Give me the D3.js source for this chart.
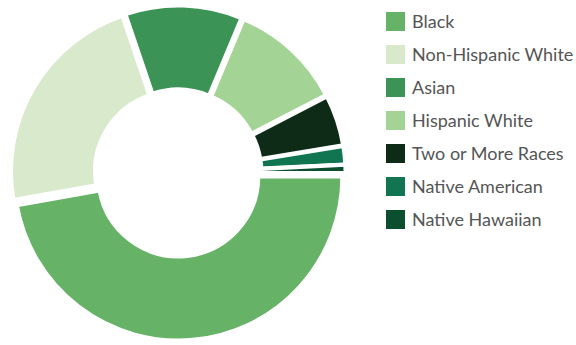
<!DOCTYPE html>
<html>
<head>
<meta charset="utf-8">
<script src="https://cdn.jsdelivr.net/npm/d3@7"></script>
<style>
  html, body { margin: 0; padding: 0; background: #fff; }
  svg { display: block; }
</style>
</head>
<body>
<svg id="chart" width="576" height="345"></svg>
<script>
const categories = ["Black", "Non-Hispanic White", "Asian", "Hispanic White", "Two or More Races", "Native American", "Native Hawaiian"];
const values = [47.2, 22.6, 11.5, 11.1, 5.0, 1.8, 0.8];
const colors = ["#66b266", "#d9e9cc", "#3b9455", "#a3d495", "#0d2b17", "#117552", "#0c4f30"];

const svg = d3.select("#chart");
const cx = 178, cy = 173, rOuter = 164, rInner = 80, explode = 3.5;

const data = categories.map((c, i) => ({ name: c, value: values[i], color: colors[i] }));

const pie = d3.pie()
  .value(d => d.value)
  .sort(null)
  .startAngle(Math.PI / 2)
  .endAngle(Math.PI / 2 + 2 * Math.PI);

const arc = d3.arc().innerRadius(rInner).outerRadius(rOuter);

const g = svg.append("g").attr("transform", `translate(${cx},${cy})`);

g.selectAll("path")
  .data(pie(data))
  .join("path")
  .attr("d", arc)
  .attr("fill", d => d.data.color)
  .attr("stroke", "#fff")
  .attr("stroke-width", 4)
  .attr("stroke-linejoin", "miter")
  .attr("transform", d => {
    const a = (d.startAngle + d.endAngle) / 2;
    return `translate(${explode * Math.sin(a)},${-explode * Math.cos(a)})`;
  });

// Legend
const legend = svg.append("g").attr("transform", "translate(386,12)");
const rowH = 33;
const items = legend.selectAll("g")
  .data(data)
  .join("g")
  .attr("transform", (d, i) => `translate(0,${i * rowH})`);

items.append("rect")
  .attr("width", 19).attr("height", 19)
  .attr("fill", d => d.color);

items.append("text")
  .attr("x", 26).attr("y", 15.5)
  .attr("font-family", "Lato, 'Open Sans', sans-serif")
  .attr("font-size", 18)
  .attr("fill", "#555")
  .text(d => d.name);
</script>
</body>
</html>
